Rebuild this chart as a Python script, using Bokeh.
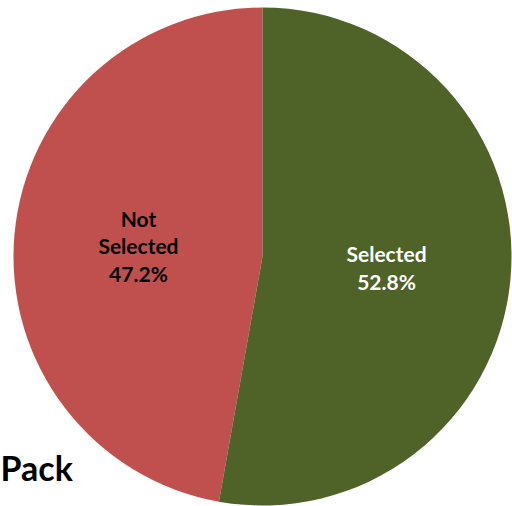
import numpy as np
from bokeh.plotting import figure
from bokeh.models import ColumnDataSource
from bokeh.core.properties import value
from bokeh.embed import file_html
from bokeh.resources import INLINE

categories = ["Not Selected", "Selected"]
labels = ["Not\nSelected\n47.2%", "Selected\n52.8%"]
shares = [47.2, 52.8]
colors = ["#C0504D", "#4F6228"]
label_colors = ["#000000", "#FFFFFF"]

W, H = 512, 506
cx, cy, r = 262, H - 256, 249

vals = np.array(shares)
frac = vals / vals.sum()
start = np.pi / 2 + 2 * np.pi * np.concatenate([[0], np.cumsum(frac)[:-1]])
end = start + 2 * np.pi * frac
mid = (start + end) / 2

src = ColumnDataSource(dict(
    cat=categories, start=start, end=end, color=colors,
    lx=cx + 0.5 * r * np.cos(mid), ly=cy + 0.5 * r * np.sin(mid),
    label=labels, tcolor=label_colors,
))

p = figure(width=W, height=H, x_range=(0, W), y_range=(0, H),
           output_backend="svg", toolbar_location=None, min_border=0)
p.axis.visible = False
p.grid.visible = False
p.outline_line_color = None
p.background_fill_color = "white"

p.wedge(x=cx, y=cy, radius=r, start_angle="start", end_angle="end",
        fill_color="color", line_color=None, source=src)
p.text(x="lx", y="ly", text="label", text_color="tcolor", source=src,
       text_font=value("Lato"), text_font_style="bold", text_font_size="21px",
       text_align="center", text_baseline="middle", text_line_height=1.1)

p.text(x=[0], y=[H - 467], text=["Pack"], text_font=value("Lato"),
       text_font_style="bold", text_font_size="34px", text_color="#000000",
       text_align="left", text_baseline="alphabetic")

open("out.html", "w").write(file_html(p, INLINE))
